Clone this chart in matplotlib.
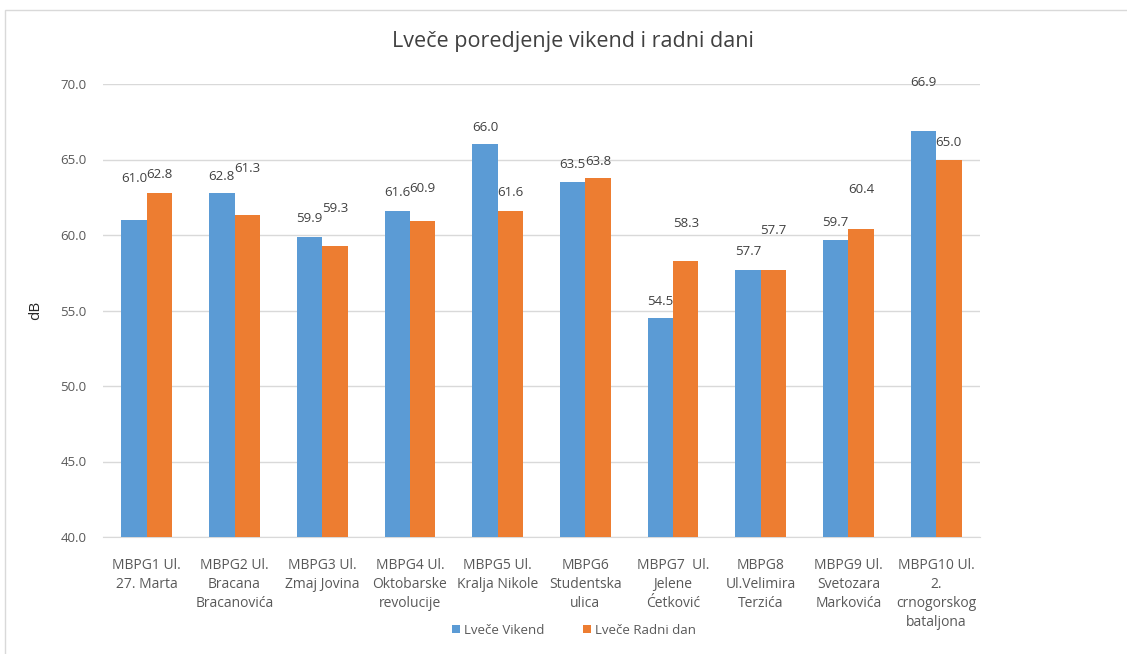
import matplotlib.pyplot as plt
import numpy as np
from matplotlib.patches import Rectangle

plt.rcParams['font.family'] = ['Open Sans', 'DejaVu Sans']

# --- DATA ---
categories = [
    "MBPG1 Ul.\n27. Marta",
    "MBPG2 Ul.\nBracana\nBracanovića",
    "MBPG3 Ul.\nZmaj Jovina",
    "MBPG4 Ul.\nOktobarske\nrevolucije",
    "MBPG5 Ul.\nKralja Nikole",
    "MBPG6\nStudentska\nulica",
    "MBPG7  Ul.\nJelene\nĆetković",
    "MBPG8\nUl.Velimira\nTerzića",
    "MBPG9 Ul.\nSvetozara\nMarkovića",
    "MBPG10 Ul.\n2.\ncrnogorskog\nbataljona",
]
vikend = [61.0, 62.8, 59.9, 61.6, 66.0, 63.5, 54.5, 57.7, 59.7, 66.9]
radni_dan = [62.8, 61.3, 59.3, 60.9, 61.6, 63.8, 58.3, 57.7, 60.4, 65.0]
yticks = [40.0, 45.0, 50.0, 55.0, 60.0, 65.0, 70.0]

# data label offsets above bar tops (pixels), labels were hand-placed in the original
dy_vikend = [41, 16, 18, 18, 17, 18, 17, 18, 17, 48]
dy_radni = [18, 47, 37, 33, 18, 16, 37, 39, 39, 17]

BLUE = '#5B9BD5'
ORANGE = '#ED7D31'
TXT = '#595959'
W, H = 1127, 654

fig = plt.figure(figsize=(W / 100, H / 100), dpi=100)
fig.patches.append(Rectangle((5 / W, -0.1), 1.2, 1 - 10 / H + 0.1, transform=fig.transFigure,
                             fill=False, edgecolor='#d9d9d9', linewidth=1))

ax = fig.add_axes([103 / W, 1 - 537 / H, 877 / W, 453 / H])
x = np.arange(len(categories))
bw = 0.29
b1 = ax.bar(x - bw / 2, vikend, bw, color=BLUE, label='Lveče Vikend', zorder=3)
b2 = ax.bar(x + bw / 2, radni_dan, bw, color=ORANGE, label='Lveče Radni dan', zorder=3)

for bars, vals, dys in [(b1, vikend, dy_vikend), (b2, radni_dan, dy_radni)]:
    for rect, v, dy in zip(bars, vals, dys):
        ax.annotate(f"{v:.1f}", (rect.get_x() + rect.get_width() / 2, v),
                    xytext=(0, dy), textcoords='offset pixels',
                    ha='center', va='center', fontsize=9.5, color='#404040')

ax.set_ylim(40, 70)
ax.set_xlim(-0.5, len(categories) - 0.5)
ax.set_yticks(yticks)
ax.set_yticklabels([f"{t:.1f}" for t in yticks], fontsize=9.5, color=TXT)
ax.set_xticks(x)
ax.set_xticklabels(categories, fontsize=10, color=TXT, linespacing=1.37, va='top')
ax.tick_params(axis='both', length=0)
ax.tick_params(axis='y', pad=12)
ax.tick_params(axis='x', pad=15)
ax.grid(axis='y', color='#d9d9d9', linewidth=1, zorder=0)
for s in ['top', 'right', 'left']:
    ax.spines[s].set_visible(False)
ax.spines['bottom'].set_color('#d9d9d9')

ax.set_ylabel('dB', fontsize=11, color='#262626', labelpad=12)

fig.text(573 / W, 1 - 42 / H, 'Lveče poredjenje vikend i radni dani', ha='center', va='center',
         fontsize=15.5, color='#404040')

fig.legend(handles=[b1, b2], loc='center', bbox_to_anchor=(574 / W, 1 - 630 / H),
           ncol=2, frameon=False, fontsize=9.5, labelcolor=TXT, handlelength=0.6,
           handleheight=0.6, handletextpad=0.3, columnspacing=3)

fig.savefig('out.png', dpi=100)
